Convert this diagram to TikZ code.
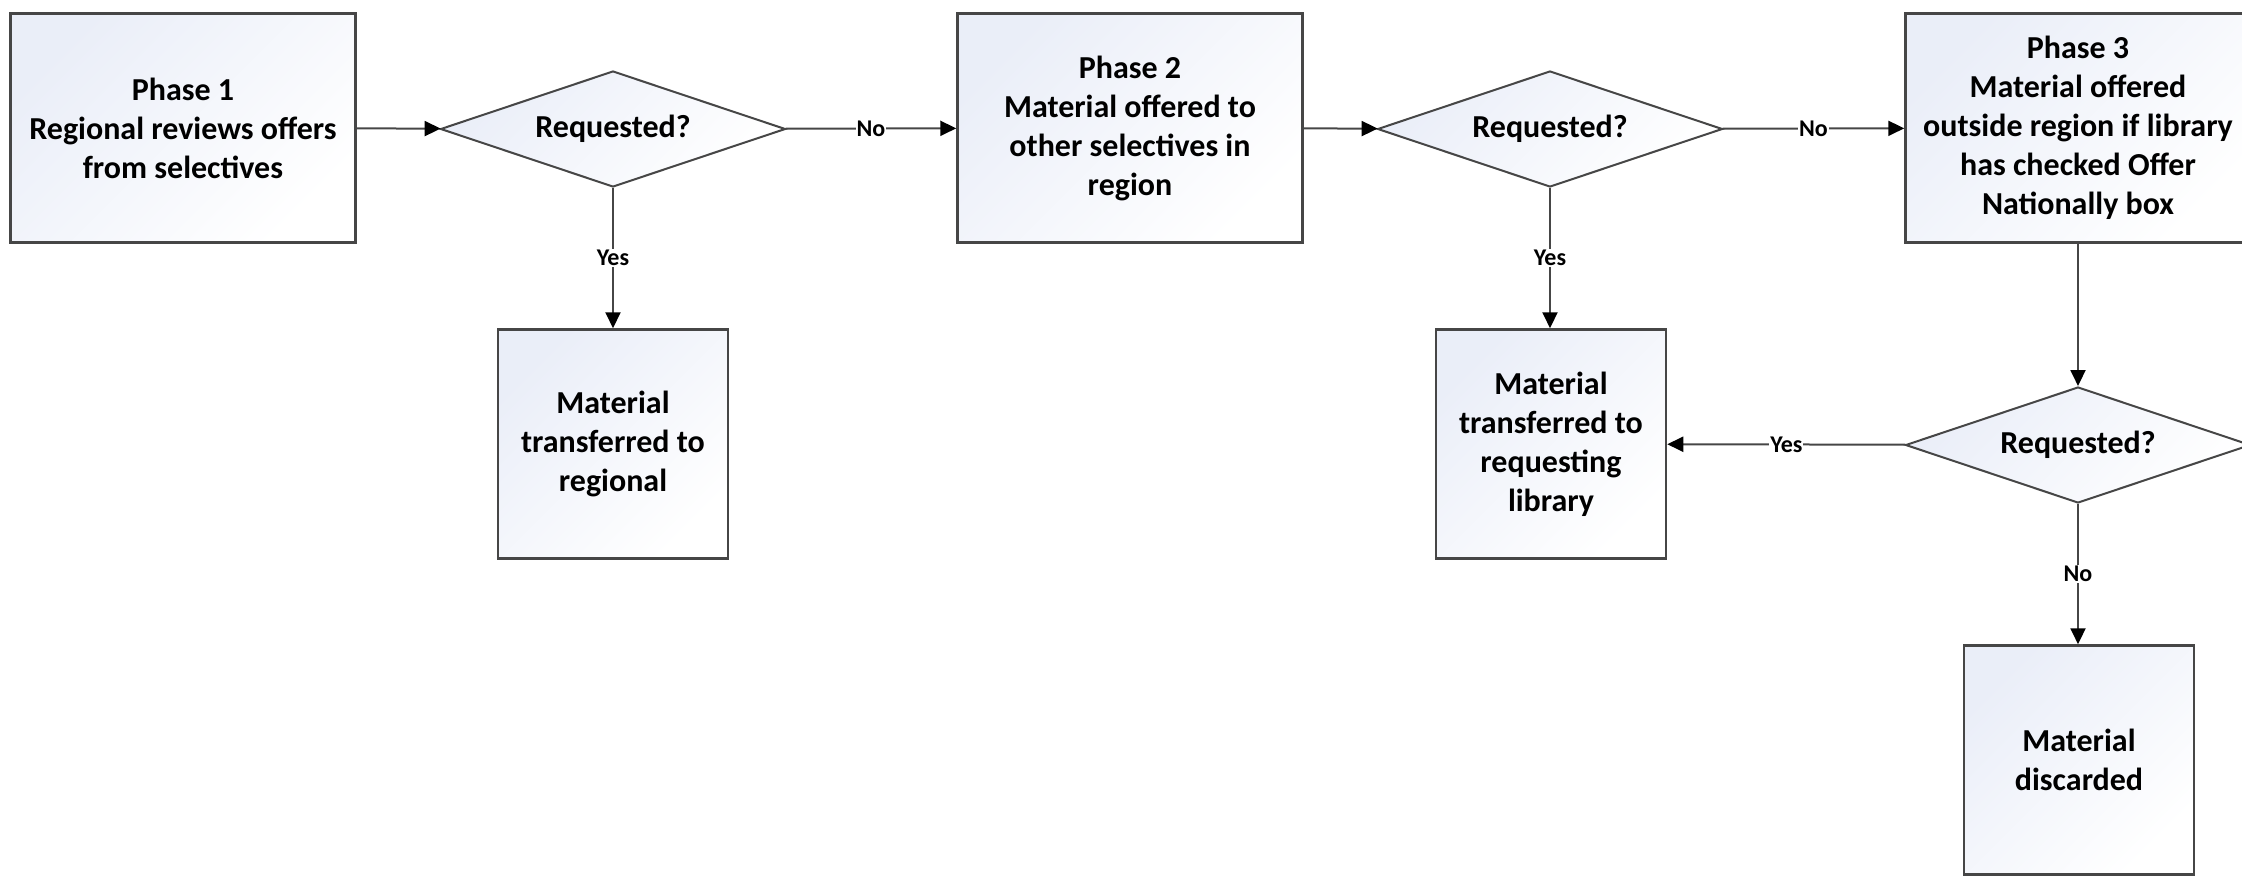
\documentclass[tikz,border=0pt]{standalone}
\usepackage{fontspec}
\setmainfont{Carlito}
\usetikzlibrary{positioning}
\usetikzlibrary{shapes.geometric}
\usetikzlibrary{arrows.meta}
\definecolor{boxtint}{RGB}{234,238,248}
\definecolor{edgegray}{RGB}{70,70,70}
\tikzset{
	phasebox/.style={draw=edgegray,line width=2.5pt,top color=boxtint,bottom color=white,shading angle=45,
		minimum width=345pt,minimum height=229pt,align=center,font=\fontsize{32}{39}\selectfont\bfseries},
	endbox/.style={phasebox,minimum width=230pt},
	askbox/.style={diamond,aspect=3,inner sep=0pt,draw=edgegray,line width=2pt,top color=boxtint,bottom color=white,
		shading angle=45,minimum width=345pt,minimum height=116pt,font=\fontsize{32}{39}\selectfont\bfseries},
	flow/.style={draw=edgegray,line width=2pt,-{Triangle[length=16pt,width=15pt,color=black]}},
	answer/.style={fill=white,inner sep=1pt,font=\fontsize{24}{26}\selectfont\bfseries},
}

\begin{document}
\begin{tikzpicture}[x=1pt,y=-1pt]
	\useasboundingbox (0,0) rectangle (2242,876);

	%phases.....................
	\node [phasebox] (phaseone) at (183,128) {Phase 1\\Regional reviews offers\\from selectives};
	\node [phasebox] (phasetwo) at (1130,128) {Phase 2\\Material offered to\\other selectives in\\region};
	\node [phasebox] (phasethree) at (2078,128) {Phase 3\\Material offered\\outside region if library\\has checked Offer\\Nationally box};

	%questions......................
	\node [askbox] (askone) at (613,129) {Requested?};
	\node [askbox] (asktwo) at (1550,129) {Requested?};
	\node [askbox] (askthree) at (2078,445) {Requested?};

	%outcomes...................
	\node [endbox] (toregional) at (613,444) {Material\\transferred to\\regional};
	\node [endbox] (tolibrary) at (1551,444) {Material\\transferred to\\requesting\\library};
	\node [endbox] (discarded) at (2079,760) {Material\\discarded};

	%arrows...................
	\draw [flow] (phaseone) to (askone);
	\draw [flow] (askone) to node [answer] {No} (phasetwo);
	\draw [flow] (askone) to node [answer] {Yes} (toregional);
	\draw [flow] (phasetwo) to (asktwo);
	\draw [flow] (asktwo) to node [answer] {No} (phasethree);
	\draw [flow] (asktwo.south) to node [answer] {Yes} (asktwo.south |- tolibrary.north);
	\draw [flow] (phasethree) to (askthree);
	\draw [flow] (askthree) to node [answer] {Yes} (tolibrary);
	\draw [flow] (askthree) to node [answer] {No} (askthree.south |- discarded.north);

\end{tikzpicture}
\end{document}
